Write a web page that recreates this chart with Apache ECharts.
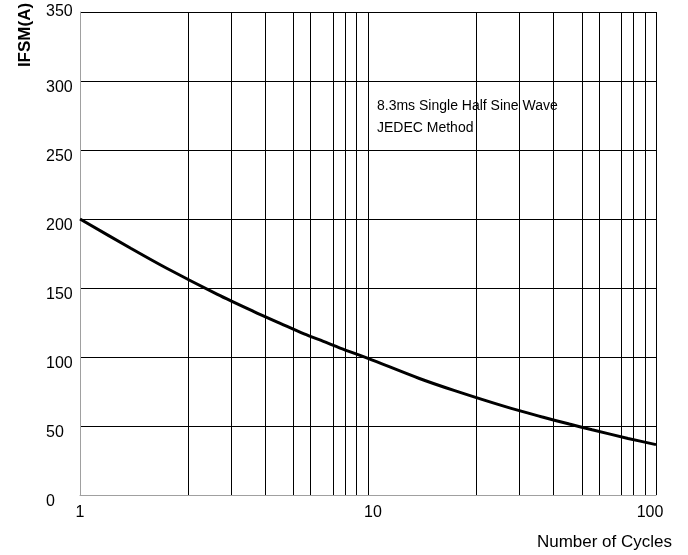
<!DOCTYPE html>
<html>
<head>
<meta charset="utf-8">
<script src="https://cdn.jsdelivr.net/npm/echarts@6/dist/echarts.min.js"></script>
<style>html,body{margin:0;padding:0;background:#fff;}#c{width:688px;height:555px;}</style>
</head>
<body>
<div id="c"></div>
<script>
const cycles  = [1, 1.5, 2, 3, 4, 5, 6, 7, 8, 10, 15, 20, 30, 40, 50, 60, 80, 100];
const ifsm    = [200, 178.8, 164.3, 145.4, 133.1, 124.0, 116.7, 111.3, 106.5, 99, 84.6, 75.6, 64.0, 56.7, 51.4, 47.3, 41.0, 36.5];
const gridX   = [2.38, 3.36, 4.39, 5.48, 6.29, 7.58, 8.32, 9.08, 10, 23.7, 33.5, 44.0, 55.5, 63.5, 76.0, 83.4, 91.6, 100];
const yTicks  = [0, 50, 100, 150, 200, 250, 300, 350];
const xTicks  = [1, 10, 100];
const noteText = ['8.3ms Single Half Sine Wave', 'JEDEC Method'];
const yName = 'IFSM(A)';
const xName = 'Number of Cycles';

const FONT = '"Liberation Sans", Arial, sans-serif';
const chart = echarts.init(document.getElementById('c'), null, {renderer: 'canvas'});
chart.setOption({
  backgroundColor: '#fff',
  animation: false,
  title: {
    text: noteText.join('\n'),
    left: 377, top: 95, padding: 0,
    textStyle: {fontFamily: FONT, fontSize: 14, fontWeight: 'normal', color: '#000', lineHeight: 22}
  },
  grid: {left: 80, right: 32, top: 12, bottom: 60, containLabel: false},
  xAxis: {
    type: 'log', logBase: 10, min: xTicks[0], max: xTicks[xTicks.length - 1],
    axisLine: {show: true, lineStyle: {color: '#a0a0a0', width: 1}},
    axisTick: {show: false},
    splitLine: {show: false},
    minorSplitLine: {show: false},
    axisLabel: {
      color: '#000', fontFamily: FONT, fontSize: 16, margin: 10,
      formatter: v => v === xTicks[0] ? '{a|' + v + '}' : (v === xTicks[1] ? '{b|' + v + '}' : '{c|' + v + '}'),
      rich: {
        a: {fontFamily: FONT, fontSize: 16, color: '#000'},
        b: {fontFamily: FONT, fontSize: 16, color: '#000', padding: [0, 0, 0, 10]},
        c: {fontFamily: FONT, fontSize: 16, color: '#000', padding: [0, 12, 0, 0]}
      }
    }
  },
  yAxis: {
    type: 'value', min: yTicks[0], max: yTicks[yTicks.length - 1], interval: 50,
    axisLine: {show: true, lineStyle: {color: '#a0a0a0', width: 1}},
    axisTick: {show: false},
    splitLine: {show: true, lineStyle: {color: ['#a0a0a0', '#000', '#000', '#000', '#000', '#000', '#000', '#000'], width: 1}},
    axisLabel: {
      color: '#000', fontFamily: FONT, fontSize: 16, align: 'left', margin: 34, verticalAlign: 'middle',
      formatter: v => v === yTicks[yTicks.length - 1] ? '{t|' + v + '}' : '{n|' + v + '}',
      rich: {
        n: {fontFamily: FONT, fontSize: 16, color: '#000', lineHeight: 16, padding: [14, 0, 0, 0]},
        t: {fontFamily: FONT, fontSize: 16, color: '#000', lineHeight: 16, padding: [0, 0, 1, 0]}
      }
    }
  },
  graphic: [
    {type: 'text', x: 25, y: 35, rotation: Math.PI / 2,
     style: {text: yName, font: 'bold 17px ' + FONT, fill: '#000', align: 'center', verticalAlign: 'middle'}},
    {type: 'text', x: 672, y: 542,
     style: {text: xName, font: '17px ' + FONT, fill: '#000', align: 'right', verticalAlign: 'middle'}}
  ],
  series: [{
    type: 'line',
    data: cycles.map((c, i) => [c, ifsm[i]]),
    showSymbol: false,
    smooth: 0.3,
    lineStyle: {color: '#000', width: 3},
    markLine: {
      silent: true, symbol: 'none', label: {show: false},
      lineStyle: {color: '#000', width: 1, type: 'solid'},
      data: gridX.map(v => ({xAxis: v}))
    },
    z: 5
  }]
});
</script>
</body>
</html>
